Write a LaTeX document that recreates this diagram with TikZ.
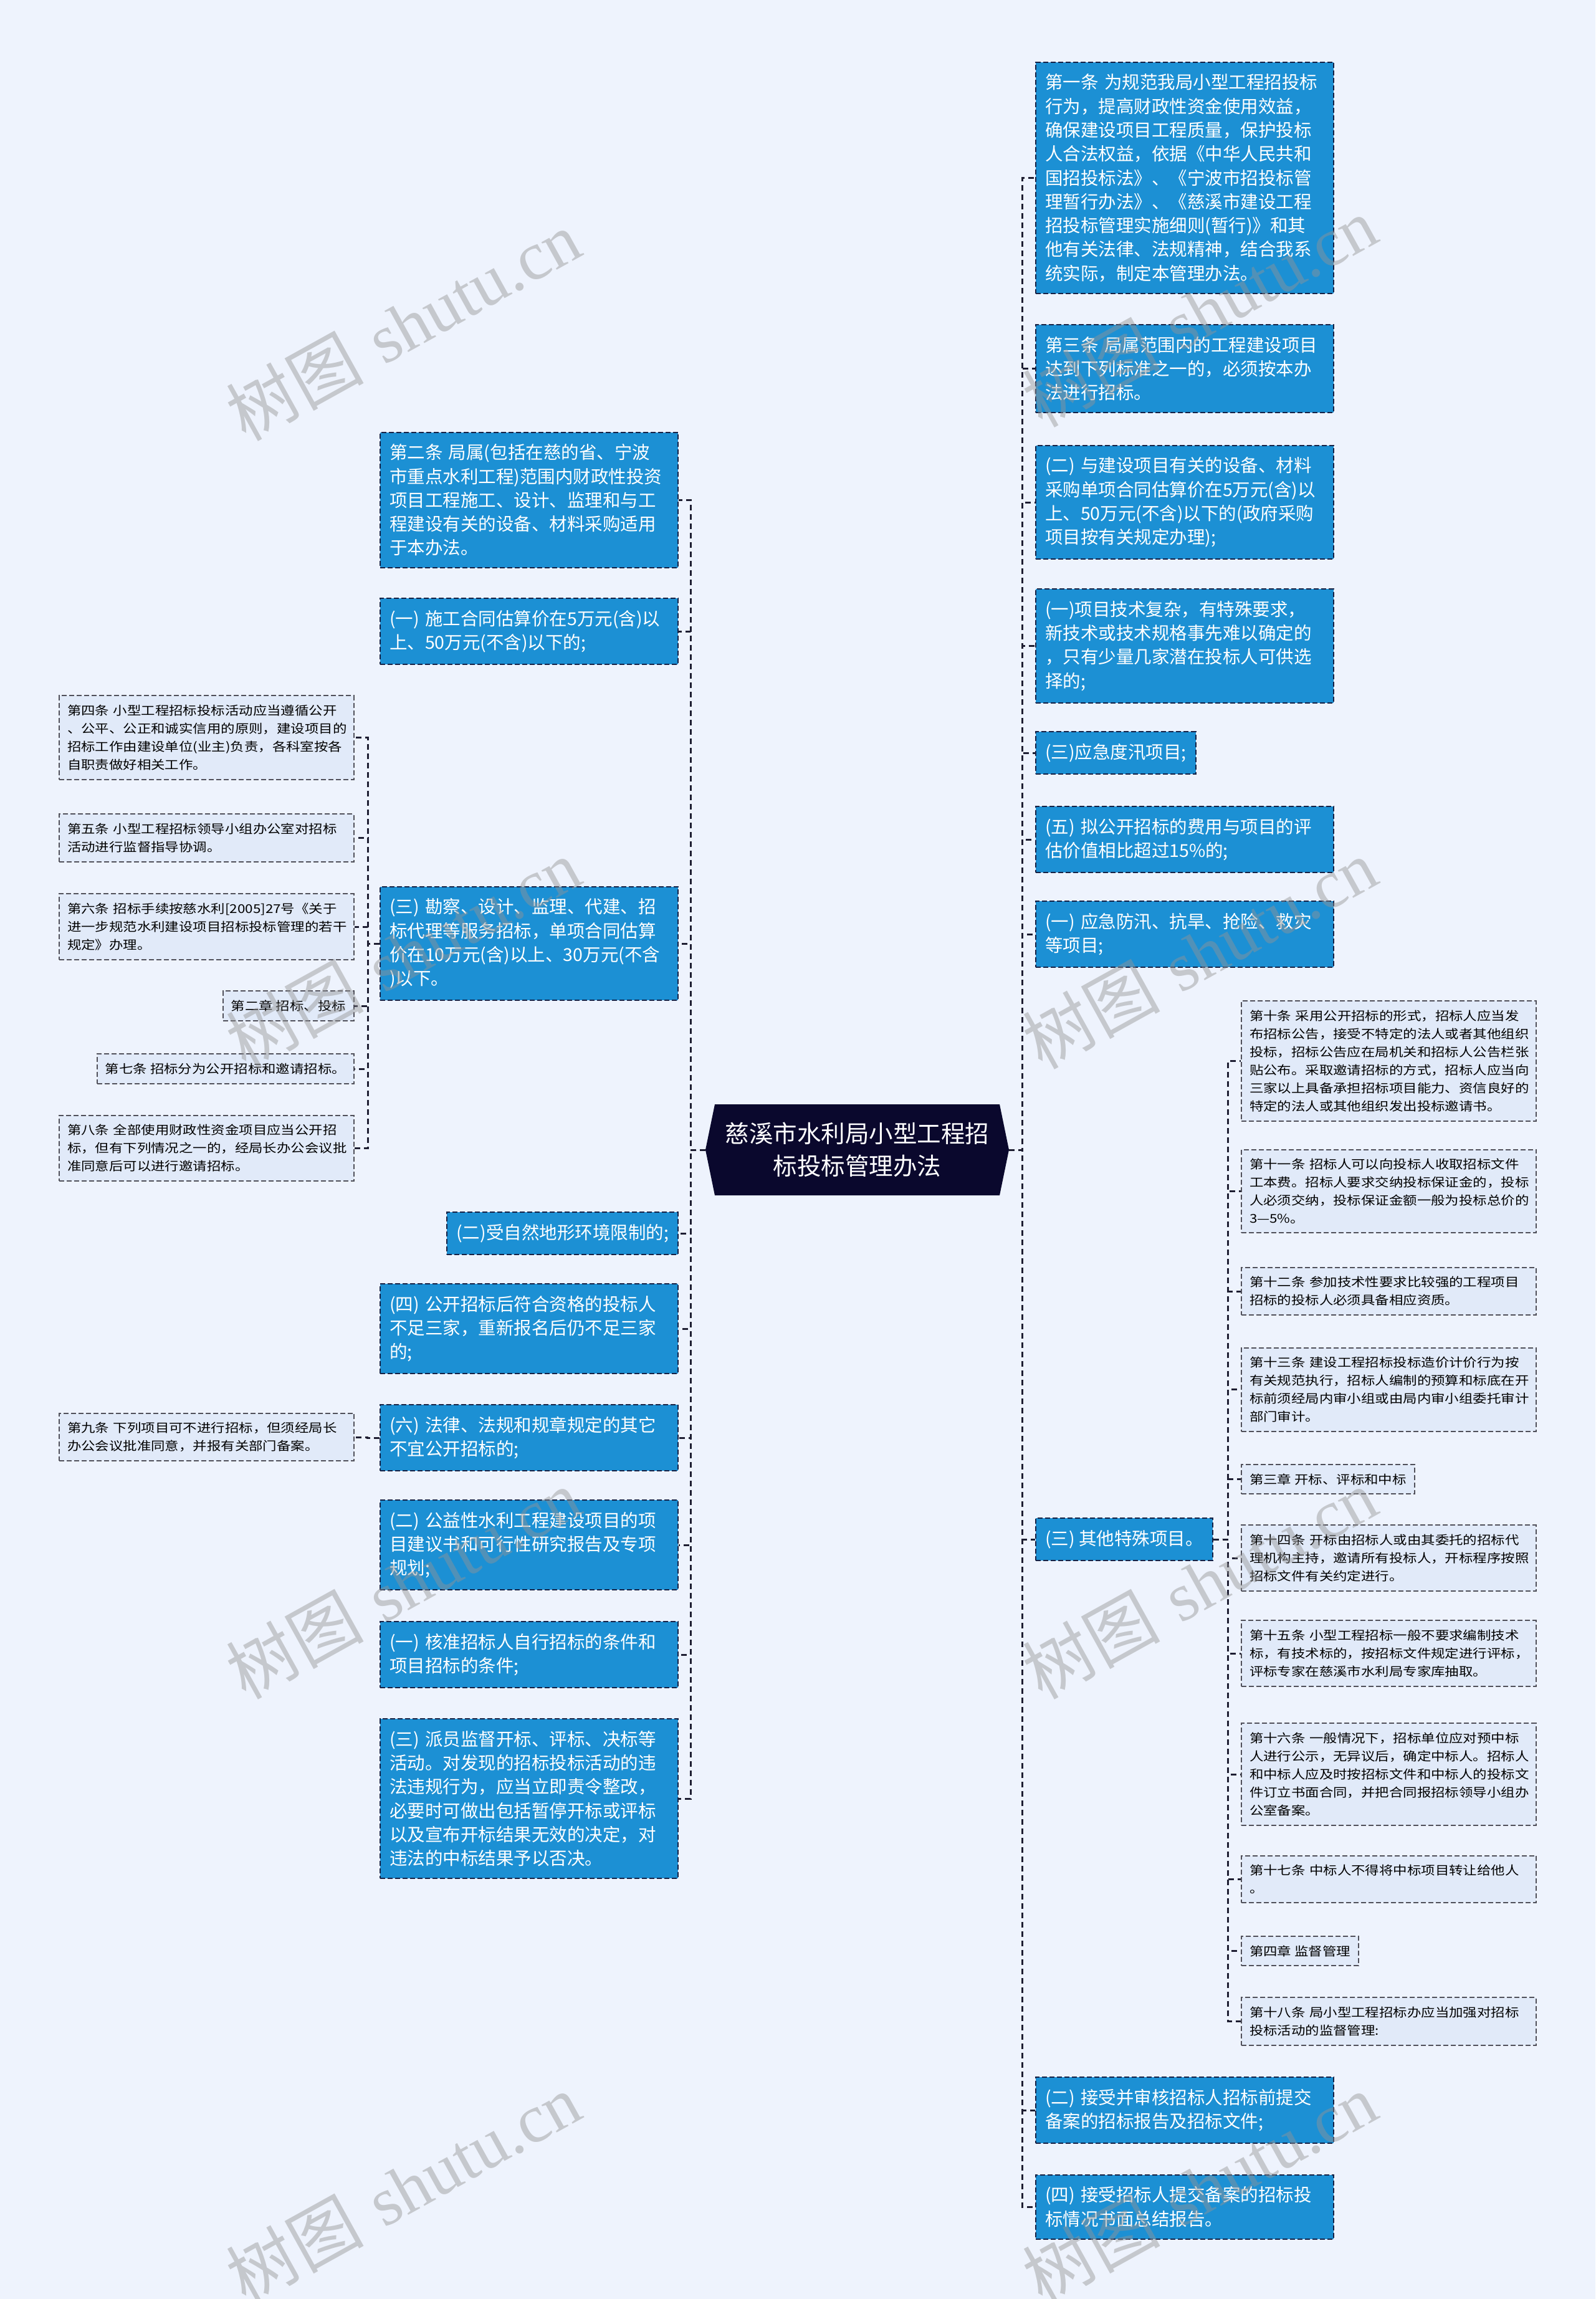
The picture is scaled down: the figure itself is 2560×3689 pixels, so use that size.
\documentclass[tikz,border=0pt]{standalone}
\usepackage{fontspec}
\newfontfamily\cjk{Noto Sans CJK SC}
\newfontfamily\cjkwide[FakeStretch=1.15]{Noto Sans CJK SC}
\newfontfamily\wmserif{Liberation Serif}
\usetikzlibrary{calc}
\definecolor{bgc}{RGB}{238,243,253}
\definecolor{boxblue}{RGB}{28,144,212}
\definecolor{navyline}{RGB}{22,34,70}
\definecolor{grayfill}{RGB}{225,234,249}
\definecolor{grayline}{RGB}{80,80,90}
\definecolor{connc}{RGB}{30,30,50}
\definecolor{rootc}{RGB}{10,8,45}
\tikzset{
  bluebox/.style={draw=navyline, fill=boxblue, text=white, dash pattern=on 8pt off 4pt, line width=2pt,
    inner xsep=15pt, inner ysep=19pt, align=left, font={\cjk\fontsize{28.5}{38.3}\selectfont}},
  bluefull/.style={bluebox, text width=448pt},
  graybox/.style={draw=grayline, fill=grayfill, dash pattern=on 8pt off 4pt, line width=2pt,
    inner xsep=13pt, inner ysep=14.5pt, align=left, font={\cjkwide\fontsize{19.5}{29}\selectfont}},
  grayfull/.style={graybox, text width=447pt},
  conn/.style={draw=connc, line width=3pt, dash pattern=on 9pt off 6pt},
  wm/.style={rotate=29, text=black!42, opacity=0.45, font={\fontsize{110}{120}\selectfont}}
}
\begin{document}
\begin{tikzpicture}[x=1pt,y=-1pt]
\useasboundingbox (0,0) rectangle (2560,3689);
\fill[bgc] (0,0) rectangle (2560,3689);

% root
\coordinate (rootL) at (1132,1845);
\coordinate (rootR) at (1619,1845);
\fill[rootc] (rootL) -- (1147,1772) -- (1604,1772) -- (rootR) -- (1604,1918) -- (1147,1918) -- cycle;
\node[text=white, align=center, font={\cjk\fontsize{38.5}{52}\selectfont}] (root) at (1375.5,1845)
  {慈溪市水利局小型工程招\\标投标管理办法};

% left blue column
\node[bluefull, anchor=east] (L1) at (1089,802.5) {第二条~局属(包括在慈的省、宁波\\市重点水利工程)范围内财政性投资\\项目工程施工、设计、监理和与工\\程建设有关的设备、材料采购适用\\于本办法。};
\node[bluefull, anchor=east] (L2) at (1089,1013) {(一)~施工合同估算价在5万元(含)以\\上、50万元(不含)以下的;};
\node[bluefull, anchor=east] (L3) at (1089,1514) {(三)~勘察、设计、监理、代建、招\\标代理等服务招标，单项合同估算\\价在10万元(含)以上、30万元(不含\\)以下。};
\node[bluebox, anchor=east] (L4) at (1089,1979) {(二)受自然地形环境限制的;};
\node[bluefull, anchor=east] (L5) at (1089,2132) {(四)~公开招标后符合资格的投标人\\不足三家，重新报名后仍不足三家\\的;};
\node[bluefull, anchor=east] (L6) at (1089,2307) {(六)~法律、法规和规章规定的其它\\不宜公开招标的;};
\node[bluefull, anchor=east] (L7) at (1089,2479) {(二)~公益性水利工程建设项目的项\\目建议书和可行性研究报告及专项\\规划;};
\node[bluefull, anchor=east] (L8) at (1089,2655) {(一)~核准招标人自行招标的条件和\\项目招标的条件;};
\node[bluefull, anchor=east] (L9) at (1089,2886) {(三)~派员监督开标、评标、决标等\\活动。对发现的招标投标活动的违\\法违规行为，应当立即责令整改，\\必要时可做出包括暂停开标或评标\\以及宣布开标结果无效的决定，对\\违法的中标结果予以否决。};

% far-left gray
\node[grayfull, anchor=east] (G4) at (569,1183.5) {第四条~小型工程招标投标活动应当遵循公开\\、公平、公正和诚实信用的原则，建设项目的\\招标工作由建设单位(业主)负责，各科室按各\\自职责做好相关工作。};
\node[grayfull, anchor=east] (G5) at (569,1344.5) {第五条~小型工程招标领导小组办公室对招标\\活动进行监督指导协调。};
\node[grayfull, anchor=east] (G6) at (569,1487) {第六条~招标手续按慈水利[2005]27号《关于\\进一步规范水利建设项目招标投标管理的若干\\规定》办理。};
\node[graybox, anchor=east] (C2) at (569,1614) {第二章~招标、投标};
\node[graybox, anchor=east] (G7) at (569,1715) {第七条~招标分为公开招标和邀请招标。};
\node[grayfull, anchor=east] (G8) at (569,1842.5) {第八条~全部使用财政性资金项目应当公开招\\标，但有下列情况之一的，经局长办公会议批\\准同意后可以进行邀请招标。};
\node[grayfull, anchor=east] (G9) at (569,2306) {第九条~下列项目可不进行招标，但须经局长\\办公会议批准同意，并报有关部门备案。};

% right blue column
\node[bluefull, anchor=west] (R1) at (1661,285.5) {第一条~为规范我局小型工程招投标\\行为，提高财政性资金使用效益，\\确保建设项目工程质量，保护投标\\人合法权益，依据《中华人民共和\\国招投标法》、《宁波市招投标管\\理暂行办法》、《慈溪市建设工程\\招投标管理实施细则(暂行)》和其\\他有关法律、法规精神，结合我系\\统实际，制定本管理办法。};
\node[bluefull, anchor=west] (R2) at (1661,591.5) {第三条~局属范围内的工程建设项目\\达到下列标准之一的，必须按本办\\法进行招标。};
\node[bluefull, anchor=west] (R3) at (1661,806) {(二)~与建设项目有关的设备、材料\\采购单项合同估算价在5万元(含)以\\上、50万元(不含)以下的(政府采购\\项目按有关规定办理);};
\node[bluefull, anchor=west] (R4) at (1661,1036.5) {(一)项目技术复杂，有特殊要求，\\新技术或技术规格事先难以确定的\\，只有少量几家潜在投标人可供选\\择的;};
\node[bluebox, anchor=west] (R5) at (1661,1208) {(三)应急度汛项目;};
\node[bluefull, anchor=west] (R6) at (1661,1347) {(五)~拟公开招标的费用与项目的评\\估价值相比超过15\%的;};
\node[bluefull, anchor=west] (R7) at (1661,1499) {(一)~应急防汛、抗旱、抢险、救灾\\等项目;};
\node[bluebox, anchor=west] (R8) at (1661,2470) {(三)~其他特殊项目。};
\node[bluefull, anchor=west] (R9) at (1661,3386) {(二)~接受并审核招标人招标前提交\\备案的招标报告及招标文件;};
\node[bluefull, anchor=west] (R10) at (1661,3541) {(四)~接受招标人提交备案的招标投\\标情况书面总结报告。};

% right gray
\node[grayfull, anchor=west] (G10) at (1991,1702.5) {第十条~采用公开招标的形式，招标人应当发\\布招标公告，接受不特定的法人或者其他组织\\投标，招标公告应在局机关和招标人公告栏张\\贴公布。采取邀请招标的方式，招标人应当向\\三家以上具备承担招标项目能力、资信良好的\\特定的法人或其他组织发出投标邀请书。};
\node[grayfull, anchor=west] (G11) at (1991,1911.5) {第十一条~招标人可以向投标人收取招标文件\\工本费。招标人要求交纳投标保证金的，投标\\人必须交纳，投标保证金额一般为投标总价的\\3—5\%。};
\node[grayfull, anchor=west] (G12) at (1991,2072) {第十二条~参加技术性要求比较强的工程项目\\招标的投标人必须具备相应资质。};
\node[grayfull, anchor=west] (G13) at (1991,2229.5) {第十三条~建设工程招标投标造价计价行为按\\有关规范执行，招标人编制的预算和标底在开\\标前须经局内审小组或由局内审小组委托审计\\部门审计。};
\node[graybox, anchor=west] (C3) at (1991,2373.5) {第三章~开标、评标和中标};
\node[grayfull, anchor=west] (G14) at (1991,2500) {第十四条~开标由招标人或由其委托的招标代\\理机构主持，邀请所有投标人，开标程序按照\\招标文件有关约定进行。};
\node[grayfull, anchor=west] (G15) at (1991,2653) {第十五条~小型工程招标一般不要求编制技术\\标，有技术标的，按招标文件规定进行评标，\\评标专家在慈溪市水利局专家库抽取。};
\node[grayfull, anchor=west] (G16) at (1991,2847) {第十六条~一般情况下，招标单位应对预中标\\人进行公示，无异议后，确定中标人。招标人\\和中标人应及时按招标文件和中标人的投标文\\件订立书面合同，并把合同报招标领导小组办\\公室备案。};
\node[grayfull, anchor=west] (G17) at (1991,3015.5) {第十七条~中标人不得将中标项目转让给他人\\。};
\node[graybox, anchor=west] (C4) at (1991,3130.5) {第四章~监督管理};
\node[grayfull, anchor=west] (G18) at (1991,3243.5) {第十八条~局小型工程招标办应当加强对招标\\投标活动的监督管理:};

% connectors
\coordinate (LT) at (1108,1845);
\coordinate (RT) at (1640,1845);
\foreach \n in {L1,L2,L3,L4,L5,L6,L7,L8,L9}
  \draw[conn] (rootL) -- (LT) |- (\n.east);
\foreach \n in {R1,R2,R3,R4,R5,R6,R7,R8,R9,R10}
  \draw[conn] (rootR) -- (RT) |- (\n.west);
\coordinate (KT) at ($(L3.west)+(-19,0)$);
\foreach \n in {G4,G5,G6,C2,G7,G8}
  \draw[conn] (L3.west) -- (KT) |- (\n.east);
\draw[conn] (L6.west) -- ++(-20,0) |- (G9.east);
\coordinate (ST) at ($(R8.east)+(24,0)$);
\foreach \n in {G10,G11,G12,G13,C3,G14,G15,G16,G17,C4,G18}
  \draw[conn] (R8.east) -- (ST) |- (\n.west);

% watermarks
\foreach \wx/\wy/\k in {647/522/a,647/1530/b,647/2541/c,647/3511/d,1925/500/e,1925/1530/f,1925/2541/g,1925/3511/h}
  \node[wm] (wm\k) at (\wx,\wy) {{\cjk 树图}~{\wmserif shutu.cn}};
\end{tikzpicture}
\end{document}
